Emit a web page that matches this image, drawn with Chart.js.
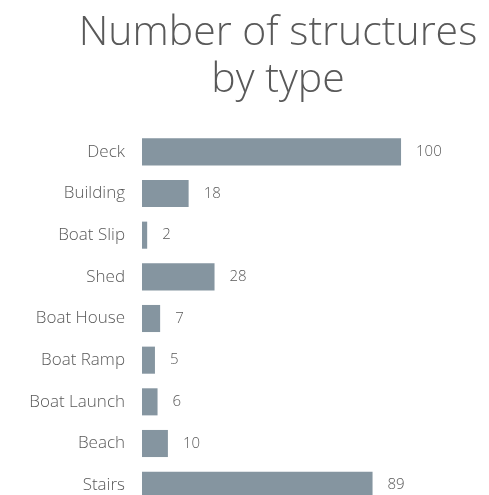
<!DOCTYPE html>
<html>
<head>
<meta charset="utf-8">
<script src="https://cdn.jsdelivr.net/npm/chart.js@4/dist/chart.umd.min.js"></script>
<style>
  html, body { margin: 0; padding: 0; background: #fff; overflow: hidden; }
  #wrap { width: 489px; height: 495px; overflow: hidden; }
  #myChart { display: block; width: 489px; height: 510px; }
</style>
</head>
<body>
<div id="wrap"><canvas id="myChart" width="489" height="510"></canvas></div>
<script>
var categories = ['Deck', 'Building', 'Boat Slip', 'Shed', 'Boat House', 'Boat Ramp', 'Boat Launch', 'Beach', 'Stairs'];
var counts = [100, 18, 2, 28, 7, 5, 6, 10, 89];
var titleLines = ['Number of structures', 'by type'];

var textGrey = '#595959';
var barColor = '#8595a0';
var fontName = 'Open Sans';

// value labels to the right of each bar
var valueLabels = {
    id: 'valueLabels',
    afterDatasetsDraw: function(chart){
        var ctx = chart.ctx;
        var meta = chart.getDatasetMeta(0);
        ctx.save();
        ctx.font = '300 15px ' + fontName;
        ctx.fillStyle = textGrey;
        ctx.textAlign = 'left';
        ctx.textBaseline = 'middle';
        meta.data.forEach(function(bar, i){
            ctx.fillText(counts[i], bar.x + 15, bar.y);
        });
        ctx.restore();
    }
};

// title centred over the plot area
var plotTitle = {
    id: 'plotTitle',
    afterDraw: function(chart){
        var ctx = chart.ctx;
        var area = chart.chartArea;
        var cx = (area.left + area.right) / 2;
        ctx.save();
        ctx.font = '300 41px ' + fontName;
        ctx.fillStyle = textGrey;
        ctx.textAlign = 'center';
        ctx.textBaseline = 'alphabetic';
        ctx.fillText(titleLines[0], cx, 45);
        ctx.fillText(titleLines[1], cx, 92);
        ctx.restore();
    }
};

var ctx = document.getElementById('myChart').getContext('2d');
var myBarChart = new Chart(ctx, {
    type: 'bar',
    data: {
        labels: categories,
        datasets: [{
            data: counts,
            backgroundColor: barColor,
            barPercentage: 0.65,
            categoryPercentage: 1.0
        }]
    },
    options: {
        indexAxis: 'y',
        responsive: false,
        maintainAspectRatio: false,
        animation: false,
        layout: { padding: { left: 0, right: 75, top: 131, bottom: 4 } },
        plugins: {
            legend: { display: false },
            tooltip: { enabled: false },
            title: { display: false }
        },
        scales: {
            x: {
                display: false,
                min: 0,
                max: 105
            },
            y: {
                grid: { display: false, drawTicks: false },
                border: { display: false },
                ticks: {
                    color: textGrey,
                    padding: 17,
                    font: { family: fontName, size: 17, weight: '300' }
                },
                afterFit: function(scale){
                    scale.width = 142;
                    scale.paddingTop = 0;
                    scale.paddingBottom = 0;
                }
            }
        }
    },
    plugins: [valueLabels, plotTitle]
});
</script>
</body>
</html>
